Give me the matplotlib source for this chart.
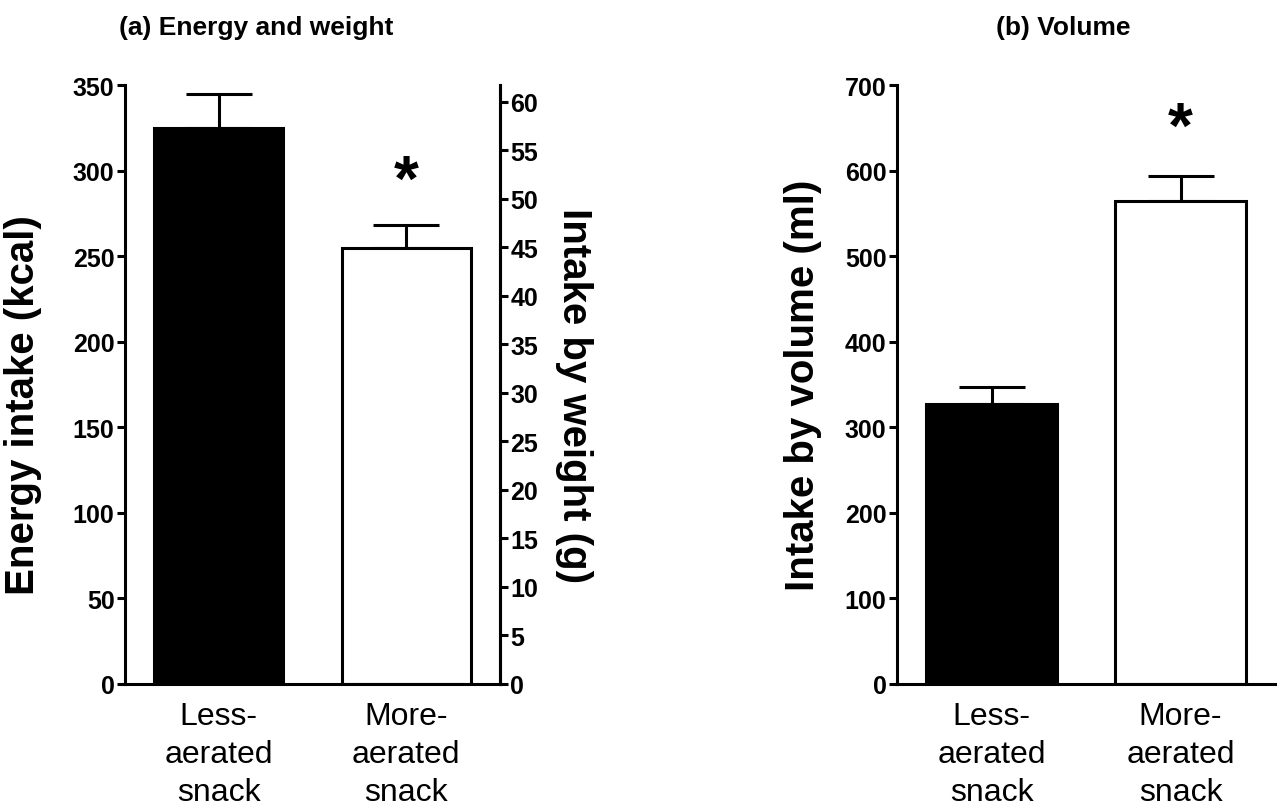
import numpy as np
import matplotlib
matplotlib.use("Agg")
import matplotlib.pyplot as plt

plt.rcParams['font.family'] = ['Liberation Sans', 'DejaVu Sans']

# data
groups = ["Less-\naerated\nsnack", "More-\naerated\nsnack"]
energy_kcal = [325, 255]
energy_sem = [20, 13]
volume_ml = [327, 564]
volume_sem = [20, 30]
weight_ticks = [0, 5, 10, 15, 20, 25, 30, 35, 40, 45, 50, 55, 60]
energy_ticks = [0, 50, 100, 150, 200, 250, 300, 350]
volume_ticks = [0, 100, 200, 300, 400, 500, 600, 700]
bar_colors = ["black", "white"]

lw = 2.2
fig = plt.figure(figsize=(12.87, 8.12), dpi=100)
ax1 = fig.add_axes([125 / 1287, 1 - 685 / 812, 375 / 1287, 599 / 812])
ax2 = fig.add_axes([897 / 1287, 1 - 685 / 812, 378 / 1287, 599 / 812])

x = np.arange(len(groups))


def draw(ax, vals, sem):
    ax.bar(x, vals, width=0.69, color=bar_colors, edgecolor="black", linewidth=lw, zorder=2)
    ax.errorbar(x, vals, yerr=[[0] * len(vals), sem], fmt="none", ecolor="black",
                elinewidth=lw, capsize=23.5, capthick=lw, zorder=1)
    ax.set_xlim(-0.5, 1.5)
    ax.set_xticks(x)
    ax.set_xticklabels(groups, fontsize=23, linespacing=1.35)
    ax.tick_params(axis="x", length=0, pad=12)
    ax.tick_params(axis="y", direction="out", length=5.5, width=lw, labelsize=18, pad=2)
    ax.spines["top"].set_visible(False)
    for s in ["left", "bottom", "right"]:
        ax.spines[s].set_linewidth(lw)


draw(ax1, energy_kcal, energy_sem)
ax1.set_ylim(0, 350)
ax1.set_yticks(energy_ticks)
for lab in ax1.get_yticklabels():
    lab.set_fontweight("bold")
ax1.set_ylabel("Energy intake (kcal)", fontsize=29, fontweight="bold")
ax1.yaxis.set_label_coords(-0.221, 0.467)
ax1.text(1, 283, "*", ha="center", va="baseline", fontsize=46, fontweight="bold")

axw = ax1.twinx()
axw.set_ylim(0, 61.75)
axw.set_yticks(weight_ticks)
axw.tick_params(axis="y", direction="out", length=5.5, width=lw, labelsize=18, pad=2)
for lab in axw.get_yticklabels():
    lab.set_fontweight("bold")
for s in ["top", "left", "bottom"]:
    axw.spines[s].set_visible(False)
axw.spines["right"].set_linewidth(lw)
axw.set_ylabel("Intake by weight (g)", fontsize=29, fontweight="bold", rotation=270, va="bottom")
axw.yaxis.set_label_coords(1.147, 0.484)

draw(ax2, volume_ml, volume_sem)
ax2.spines["right"].set_visible(False)
ax2.set_ylim(0, 700)
ax2.set_yticks(volume_ticks)
for lab in ax2.get_yticklabels():
    lab.set_fontweight("bold")
ax2.set_ylabel("Intake by volume (ml)", fontsize=29, fontweight="bold")
ax2.yaxis.set_label_coords(-0.198, 0.5)
ax2.text(1, 628, "*", ha="center", va="baseline", fontsize=46, fontweight="bold")

fig.text(256 / 1287, 1 - 28 / 812, "(a) Energy and weight", ha="center", va="center",
         fontsize=19, fontweight="bold")
fig.text(1063 / 1287, 1 - 28 / 812, "(b) Volume", ha="center", va="center",
         fontsize=19, fontweight="bold")

fig.savefig("out.png", dpi=100)
